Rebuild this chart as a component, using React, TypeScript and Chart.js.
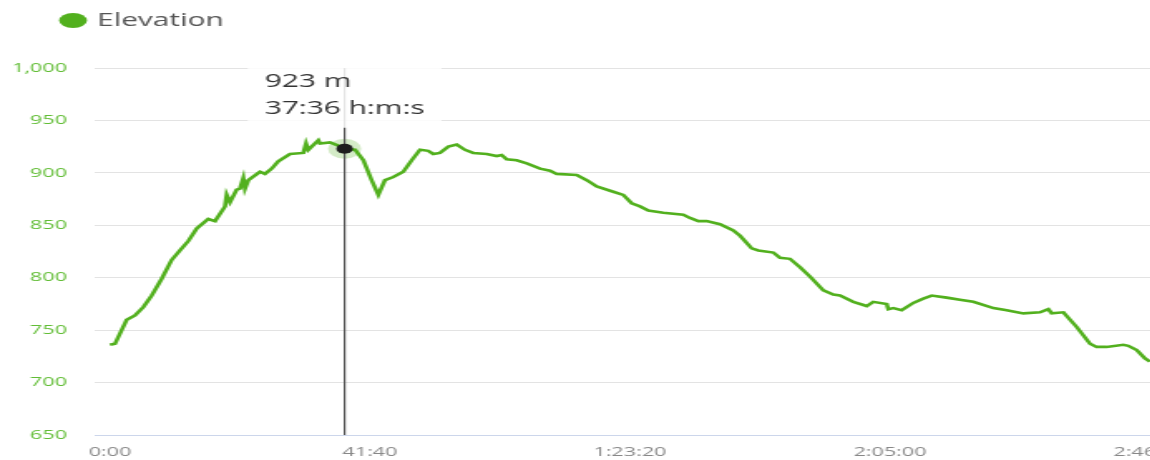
import React, { useEffect, useRef } from 'react';
import { Chart, registerables } from 'chart.js';

Chart.register(...registerables);

// ---- data ----
const SERIES_NAME = 'Elevation';
// elapsed time in seconds
const TIMES = [
  0, 48, 161, 240, 320, 401, 497, 593, 673, 753,
  834, 945, 1010, 1058, 1106, 1122, 1154, 1218, 1250, 1282,
  1298, 1330, 1442, 1490, 1555, 1618, 1731, 1859, 1885, 1907,
  2003, 2019, 2115, 2195, 2256, 2356, 2436, 2516, 2580, 2644,
  2724, 2820, 2901, 2981, 3060, 3109, 3173, 3253, 3334, 3413,
  3493, 3622, 3718, 3766, 3814, 3910, 4007, 4135, 4231, 4295,
  4488, 4584, 4680, 4839, 4935, 5016, 5096, 5176, 5320, 5512,
  5577, 5657, 5737, 5865, 5993, 6058, 6170, 6234, 6378, 6442,
  6538, 6635, 6731, 6859, 6955, 7019, 7147, 7276, 7339, 7468,
  7484, 7532, 7612, 7724, 7820, 7901, 8045, 8173, 8301, 8494,
  8622, 8782, 8942, 9022, 9055, 9167, 9295, 9423, 9487, 9583,
  9743, 9791, 9872, 9952, 10000,
];
// elevation in metres
const ELEVATION = [
  736, 737, 760, 764, 772, 783, 799, 817, 826, 835,
  847, 856, 854, 861, 868, 879, 872, 884, 885, 895,
  885, 893, 901, 899, 904, 911, 918, 919, 928, 922,
  931, 928, 929, 926, 923, 922, 912, 893, 879, 893,
  896, 901, 912, 922, 921, 918, 919, 925, 927, 922,
  919, 918, 916, 917, 913, 912, 909, 904, 902, 899,
  898, 893, 887, 882, 879, 871, 868, 864, 862, 860,
  857, 854, 854, 851, 845, 840, 828, 826, 824, 819,
  818, 810, 801, 788, 784, 783, 777, 773, 777, 775,
  770, 771, 769, 776, 780, 783, 781, 779, 777, 771,
  769, 766, 767, 770, 766, 767, 753, 737, 734, 734,
  736, 735, 731, 723, 720,
];
const X_TICKS = [0, 2500, 5000, 7500, 10000];
const X_TICK_LABELS = ['0:00', '41:40', '1:23:20', '2:05:00', '2:46:40'];
const Y_MIN = 650;
const Y_MAX = 1000;
const Y_STEP = 50;
const ACTIVE_INDEX = 34; // 37:36 -> 923 m

// ---- styling ----
const STRETCH = 1.66;
const W = 740;
const H = 460;
const GREEN = '#52b01e';
const FONT = '"Open Sans", "Noto Sans", sans-serif';

function clock(sec: number): string {
  const h = Math.floor(sec / 3600);
  const m = Math.floor((sec % 3600) / 60);
  const s = Math.round(sec % 60);
  const ss = String(s).padStart(2, '0');
  if (h > 0) return `${h}:${String(m).padStart(2, '0')}:${ss}`;
  return `${m}:${ss}`;
}

const legendPlugin = {
  id: 'topLeftLegend',
  afterDraw(chart: any) {
    const ctx = chart.ctx;
    ctx.save();
    ctx.fillStyle = chart.data.datasets[0].borderColor;
    ctx.beginPath();
    ctx.ellipse(44, 20.5, 8.4, 7.5, 0, 0, Math.PI * 2);
    ctx.fill();
    ctx.font = `18px ${FONT}`;
    ctx.fillStyle = '#555';
    ctx.textAlign = 'left';
    ctx.textBaseline = 'middle';
    ctx.fillText(chart.data.datasets[0].label, 58.4, 21);
    ctx.restore();
  },
};

const crosshairPlugin = {
  id: 'crosshair',
  beforeDatasetsDraw(chart: any) {
    const act = chart.getActiveElements();
    if (!act.length) return;
    const el = act[0].element;
    const { ctx, chartArea } = chart;
    ctx.save();
    ctx.beginPath();
    ctx.arc(el.x, el.y, 10, 0, Math.PI * 2);
    ctx.fillStyle = 'rgba(82,176,30,0.25)';
    ctx.fill();
    ctx.beginPath();
    ctx.moveTo(el.x, chartArea.top);
    ctx.lineTo(el.x, chartArea.bottom);
    ctx.lineWidth = 1.2;
    ctx.strokeStyle = '#555';
    ctx.stroke();
    ctx.restore();
  },
};

export default function App() {
  const ref = useRef<HTMLCanvasElement | null>(null);

  useEffect(() => {
    if (!ref.current) return;
    const points = TIMES.map((t, i) => ({ x: t, y: ELEVATION[i] }));
    const chart = new Chart(ref.current, {
      type: 'line',
      data: {
        datasets: [
          {
            label: SERIES_NAME,
            data: points,
            borderColor: GREEN,
            backgroundColor: GREEN,
            borderWidth: 2.6,
            pointRadius: 0,
            pointHoverRadius: 5,
            pointHoverBackgroundColor: '#1e1e1e',
            pointHoverBorderWidth: 0,
            tension: 0,
            fill: false,
          },
        ],
      },
      options: {
        responsive: false,
        animation: false,
        devicePixelRatio: 1,
        events: [],
        layout: { padding: { left: 0, right: 31, top: 68, bottom: 0 } },
        plugins: {
          legend: { display: false },
          tooltip: {
            enabled: true,
            backgroundColor: 'rgba(255,255,255,0.85)',
            bodyColor: '#333',
            bodyFont: { family: FONT, size: 18, lineHeight: 1.2 },
            bodySpacing: 5,
            padding: { left: 10.2, right: 10.2, top: 8, bottom: 8 },
            caretSize: 0,
            caretPadding: 21,
            cornerRadius: 0,
            displayColors: false,
            xAlign: 'center',
            yAlign: 'bottom',
            borderWidth: 0,
            callbacks: {
              title: () => [],
              label: (c: any) => [
                `${ELEVATION[c.dataIndex]} m`,
                `${clock(TIMES[c.dataIndex])} h:m:s`,
              ],
            },
          },
        },
        scales: {
          x: {
            type: 'linear',
            min: -154,
            max: 10259,
            afterBuildTicks: (scale: any) => {
              scale.ticks = X_TICKS.map((v) => ({ value: v }));
            },
            afterFit: (scale: any) => {
              scale.height = 25;
            },
            grid: { display: false, drawTicks: false },
            border: { display: false },
            ticks: {
              autoSkip: false,
              maxRotation: 0,
              padding: 9,
              color: '#888',
              font: { family: FONT, size: 13 },
              callback: (_v: any, i: number) => X_TICK_LABELS[i],
            },
          },
          y: {
            min: Y_MIN,
            max: Y_MAX,
            afterFit: (scale: any) => {
              scale.width = 56.6;
            },
            grid: {
              drawTicks: false,
              lineWidth: 1,
              color: (c: any) => (c.tick && c.tick.value === Y_MIN ? '#ccd6eb' : '#e3e3e3'),
            },
            border: { display: false },
            ticks: {
              stepSize: Y_STEP,
              padding: 16.2,
              color: '#62bd36',
              font: { family: FONT, size: 13 },
              callback: (v: any) => Number(v).toLocaleString('en-US'),
            },
          },
        },
      },
      plugins: [legendPlugin, crosshairPlugin],
    } as any);

    const active = [{ datasetIndex: 0, index: ACTIVE_INDEX }];
    chart.setActiveElements(active);
    const el: any = chart.getDatasetMeta(0).data[ACTIVE_INDEX];
    chart.tooltip?.setActiveElements(active, { x: el.x, y: el.y });
    chart.update();

    return () => chart.destroy();
  }, []);

  return (
    <div
      style={{
        position: 'fixed',
        left: 0,
        top: 0,
        width: 1150,
        height: 460,
        overflow: 'hidden',
        background: '#fff',
      }}
    >
      <canvas
        ref={ref}
        width={W}
        height={H}
        style={{
          display: 'block',
          transform: `scaleX(${STRETCH})`,
          transformOrigin: '0 0',
        }}
      />
    </div>
  );
}
